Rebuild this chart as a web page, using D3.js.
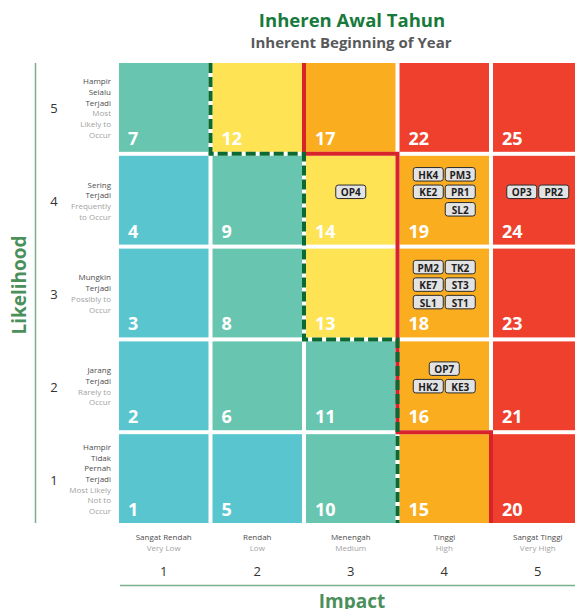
<!DOCTYPE html>
<html>
<head>
<meta charset="utf-8">
<script src="https://cdn.jsdelivr.net/npm/d3@7"></script>
<style>
  html, body { margin: 0; padding: 0; background: #fff; }
  svg { display: block; font-family: "Open Sans", "Noto Sans", sans-serif; }
  .cellnum { fill: #fff; font-weight: 700; font-size: 18px; }
  .badge rect { fill: #e3e3e3; stroke: #2b2b2b; stroke-width: 1; }
  .badge text { fill: #1e1e1e; font-weight: 700; font-size: 10px; }
  .lab-id { fill: #4d4d4d; font-size: 8px; }
  .lab-en { fill: #a3a3a3; font-size: 8px; }
  .ticknum { fill: #333; font-size: 13px; }
</style>
</head>
<body>
<svg id="chart" width="575" height="609"></svg>
<script>
  // impact (x) and likelihood (y) levels
  const impactLevels = [1, 2, 3, 4, 5];
  const likelihoodLevels = [5, 4, 3, 2, 1];

  const impactId = ["Sangat Rendah", "Rendah", "Menengah", "Tinggi", "Sangat Tinggi"];
  const impactEn = ["Very Low", "Low", "Medium", "High", "Very High"];

  const likelihoodId = [
    ["Hampir", "Tidak", "Pernah", "Terjadi"],
    ["Jarang", "Terjadi"],
    ["Mungkin", "Terjadi"],
    ["Sering", "Terjadi"],
    ["Hampir", "Selalu", "Terjadi"]
  ];
  const likelihoodEn = [
    ["Most Likely", "Not to", "Occur"],
    ["Rarely to", "Occur"],
    ["Possibly to", "Occur"],
    ["Frequently", "to Occur"],
    ["Most", "Likely to", "Occur"]
  ];

  // risk score per cell, rows from likelihood 5 down to 1, columns impact 1..5
  const scores = [
    [7, 12, 17, 22, 25],
    [4, 9, 14, 19, 24],
    [3, 8, 13, 18, 23],
    [2, 6, 11, 16, 21],
    [1, 5, 10, 15, 20]
  ];
  // level per cell: 0 very low, 1 low, 2 medium, 3 high, 4 very high
  const levels = [
    [1, 2, 3, 4, 4],
    [0, 1, 2, 3, 4],
    [0, 1, 2, 3, 4],
    [0, 1, 1, 3, 4],
    [0, 0, 1, 3, 4]
  ];
  const levelColors = ["#58c5cf", "#68c5b0", "#fee354", "#fbad20", "#ef402e"];

  // risk codes placed in cells (badge rows)
  const risks = [
    { impact: 3, likelihood: 4, rows: [["OP4"]] },
    { impact: 4, likelihood: 4, rows: [["HK4", "PM3"], ["KE2", "PR1"], ["", "SL2"]] },
    { impact: 5, likelihood: 4, rows: [["OP3", "PR2"]] },
    { impact: 4, likelihood: 3, rows: [["PM2", "TK2"], ["KE7", "ST3"], ["SL1", "ST1"]] },
    { impact: 4, likelihood: 2, rows: [["OP7"], ["HK2", "KE3"]] }
  ];

  // zone borders, as [column boundary, row boundary] corners
  const appetiteLine = [[1, 5], [1, 4], [2, 4], [2, 2], [3, 2], [3, 0]];
  const toleranceLine = [[2, 5], [2, 4], [3, 4], [3, 1], [4, 1], [4, 0]];

  const svg = d3.select("#chart");

  const x = d3.scaleBand().domain(impactLevels).range([119, 582.5]).paddingInner(0.043);
  const y = d3.scaleBand().domain(likelihoodLevels).range([63, 523]).paddingInner(0.043);
  const gapX = x.step() - x.bandwidth();
  const gapY = y.step() - y.bandwidth();

  // boundary helpers: k columns to the left, m rows below
  const bx = (k) => k === 0 ? x(1) : k === 5 ? x(5) + x.bandwidth() : x(k + 1) - gapX / 2;
  const by = (m) => m === 5 ? y(5) : m === 0 ? y(1) + y.bandwidth() : y(m) - gapY / 2;

  // titles
  svg.append("text").attr("x", 352).attr("y", 27).attr("text-anchor", "middle")
    .style("font-size", "18.5px").style("font-weight", 700).style("fill", "#177a3c")
    .text("Inheren Awal Tahun");
  svg.append("text").attr("x", 351).attr("y", 48).attr("text-anchor", "middle")
    .style("font-size", "15px").style("font-weight", 700).style("fill", "#58595b")
    .text("Inherent Beginning of Year");

  // cells
  const cells = [];
  likelihoodLevels.forEach((l, r) => {
    impactLevels.forEach((im, c) => {
      cells.push({ impact: im, likelihood: l, score: scores[r][c], level: levels[r][c] });
    });
  });

  const cellG = svg.append("g").selectAll("g").data(cells).join("g")
    .attr("transform", (d) => `translate(${x(d.impact)},${y(d.likelihood)})`);
  cellG.append("rect")
    .attr("width", x.bandwidth()).attr("height", y.bandwidth())
    .attr("fill", (d) => levelColors[d.level]);
  cellG.append("text").attr("class", "cellnum")
    .attr("x", 9).attr("y", y.bandwidth() - 7)
    .text((d) => d.score);

  // zone lines
  const line = d3.line().x((d) => bx(d[0])).y((d) => by(d[1]));
  svg.append("path").attr("d", line(toleranceLine))
    .attr("fill", "none").attr("stroke", "#d8232a").attr("stroke-width", 4)
    .attr("stroke-linejoin", "miter");
  svg.append("path").attr("d", line(appetiteLine))
    .attr("fill", "none").attr("stroke", "#0b6a31").attr("stroke-width", 4)
    .attr("stroke-dasharray", "10,4").attr("stroke-linejoin", "miter");

  // risk badges
  const bw = 30, bh = 13.5, bgap = 2, rowPitch = 17.5;
  risks.forEach((rk) => {
    const cx = x(rk.impact) + x.bandwidth() / 2;
    const blockH = rk.rows.length * rowPitch - (rowPitch - bh);
    const top = y(rk.likelihood) + 36 - blockH / 2;
    rk.rows.forEach((row, ri) => {
      const rowW = row.length * bw + (row.length - 1) * bgap;
      row.forEach((code, ci) => {
        if (!code) return;
        const g = svg.append("g").attr("class", "badge")
          .attr("transform", `translate(${cx - rowW / 2 + ci * (bw + bgap)},${top + ri * rowPitch})`);
        g.append("rect").attr("width", bw).attr("height", bh).attr("rx", 2.5);
        g.append("text").attr("x", bw / 2).attr("y", bh / 2 + 0.5)
          .attr("text-anchor", "middle").attr("dominant-baseline", "central").text(code);
      });
    });
  });

  // likelihood axis
  svg.append("line").attr("x1", 35.5).attr("x2", 35.5).attr("y1", 63).attr("y2", 523)
    .attr("stroke", "#7aaf8e").attr("stroke-width", 1.5);
  svg.append("text").attr("transform", "translate(26,285) rotate(-90)")
    .attr("text-anchor", "middle")
    .style("font-size", "19px").style("font-weight", 700).style("fill", "#4b8f5b")
    .text("Likelihood");

  const lh = 10.7;
  likelihoodLevels.forEach((l) => {
    const cy = y(l) + y.bandwidth() / 2;
    svg.append("text").attr("class", "ticknum").attr("x", 54).attr("y", cy + 1)
      .attr("text-anchor", "middle").attr("dominant-baseline", "central").text(l);
    const idLines = likelihoodId[l - 1], enLines = likelihoodEn[l - 1];
    const n = idLines.length + enLines.length;
    const t0 = cy - (n - 1) * lh / 2;
    idLines.concat(enLines).forEach((s, i) => {
      svg.append("text").attr("class", i < idLines.length ? "lab-id" : "lab-en")
        .attr("x", 111).attr("y", t0 + i * lh).attr("text-anchor", "end")
        .attr("dominant-baseline", "central").text(s);
    });
  });

  // impact axis
  impactLevels.forEach((im, i) => {
    const cx = x(im) + x.bandwidth() / 2;
    svg.append("text").attr("class", "lab-id").attr("x", cx).attr("y", 540)
      .attr("text-anchor", "middle").text(impactId[i]);
    svg.append("text").attr("class", "lab-en").attr("x", cx).attr("y", 551)
      .attr("text-anchor", "middle").text(impactEn[i]);
    svg.append("text").attr("class", "ticknum").attr("x", cx).attr("y", 576)
      .attr("text-anchor", "middle").text(im);
  });
  svg.append("line").attr("x1", 120).attr("x2", 575).attr("y1", 585.5).attr("y2", 585.5)
    .attr("stroke", "#7aaf8e").attr("stroke-width", 1.5);
  svg.append("text").attr("x", 352).attr("y", 608).attr("text-anchor", "middle")
    .style("font-size", "19px").style("font-weight", 700).style("fill", "#4b8f5b")
    .text("Impact");
</script>
</body>
</html>
